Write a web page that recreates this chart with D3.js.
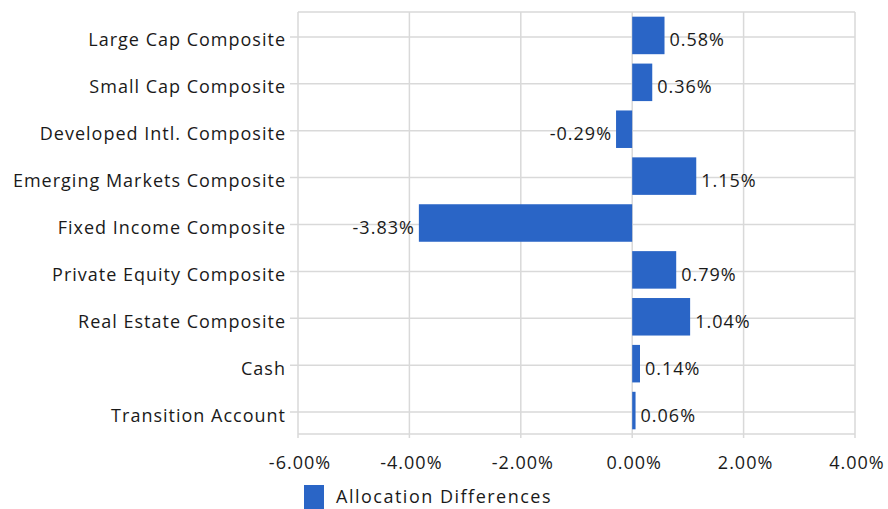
<!DOCTYPE html>
<html><head><meta charset="utf-8">
<script src="https://cdn.jsdelivr.net/npm/d3@7"></script>
<style>body{margin:0;background:#fff}svg{display:block}text{font-family:"Open Sans",sans-serif;fill:#1a1a1a;letter-spacing:1px}</style>
</head><body><svg id="c" width="888" height="509"></svg>
<script>
const categories=["Large Cap Composite","Small Cap Composite","Developed Intl. Composite","Emerging Markets Composite","Fixed Income Composite","Private Equity Composite","Real Estate Composite","Cash","Transition Account"];
const values=[0.58,0.36,-0.29,1.15,-3.83,0.79,1.04,0.14,0.06];
const xTicks=[-6,-4,-2,0,2,4];
const seriesName="Allocation Differences";

const svg=d3.select("#c");
const L=298,R=855,T=12,B=434;
const x=d3.scaleLinear().domain([-6,4]).range([L,R]);
const y=d3.scaleBand().domain(categories).range([T,B]).paddingInner(0.2).paddingOuter(0.1);
const grid="#d9d9d9";
const fs=18;
const g=svg.append("g");
g.selectAll(".vg").data(xTicks).join("line").attr("x1",d=>x(d)).attr("x2",d=>x(d)).attr("y1",T).attr("y2",B+4).attr("stroke",grid).attr("stroke-width",1.5);
const yc=d=>y(d)+y.bandwidth()/2+1.5;
g.selectAll(".hg").data(categories).join("line").attr("x1",L-8).attr("x2",R).attr("y1",yc).attr("y2",yc).attr("stroke",grid).attr("stroke-width",1.5);
g.append("line").attr("x1",L).attr("x2",R).attr("y1",T).attr("y2",T).attr("stroke",grid).attr("stroke-width",1.5);
g.append("line").attr("x1",L).attr("x2",R).attr("y1",B).attr("y2",B).attr("stroke",grid).attr("stroke-width",1.5);
const color="#2a65c6";
svg.selectAll(".bar").data(values).join("rect")
 .attr("x",d=>Math.min(x(0),x(d))).attr("width",d=>Math.abs(x(d)-x(0)))
 .attr("y",(d,i)=>y(categories[i])).attr("height",y.bandwidth()).attr("fill",color);
svg.selectAll(".vl").data(values).join("text")
 .attr("x",d=>d>=0?x(d)+5:x(d)-4).attr("y",(d,i)=>yc(categories[i])+9.5)
 .attr("text-anchor",d=>d>=0?"start":"end").attr("font-size",fs).text(d=>d.toFixed(2)+"%");
svg.selectAll(".cl").data(categories).join("text")
 .attr("x",L-12).attr("y",d=>yc(d)+9.5).attr("text-anchor","end").attr("font-size",fs).text(d=>d);
svg.selectAll(".xl").data(xTicks).join("text")
 .attr("x",d=>x(d)+2).attr("y",469).attr("text-anchor","middle").attr("font-size",fs).text(d=>d.toFixed(2)+"%");
svg.append("rect").attr("x",304).attr("y",485).attr("width",20).attr("height",24).attr("fill",color);
svg.append("text").attr("x",336).attr("y",503).attr("font-size",fs).style("letter-spacing","1.5px").text(seriesName);
</script></body></html>
